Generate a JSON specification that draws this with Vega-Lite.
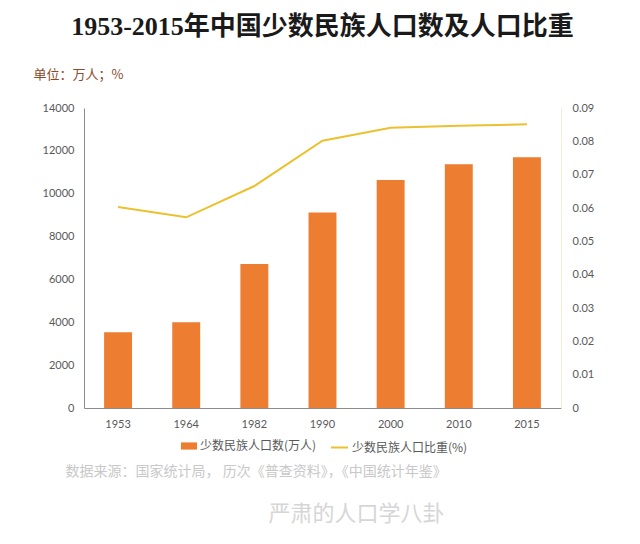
{
  "$schema": "https://vega.github.io/schema/vega-lite/v6.json",
  "width": 477,
  "height": 300,
  "autosize": {"type": "none"},
  "padding": {"left": 84, "top": 108, "right": 79, "bottom": 136},
  "background": "white",
  "title": {
    "text": "1953-2015年中国少数民族人口数及人口比重",
    "font": "Liberation Serif, Noto Sans CJK SC",
    "fontSize": 26,
    "fontWeight": "bold",
    "color": "#1a1a1a",
    "anchor": "middle",
    "offset": 28
  },
  "config": {"view": {"stroke": null}, "font": "Lato"},
  "data": {
    "values": [
      {"year": "1953", "pop": 3532, "share": 0.0603},
      {"year": "1964", "pop": 4002, "share": 0.0572},
      {"year": "1982", "pop": 6724, "share": 0.0666},
      {"year": "1990", "pop": 9120, "share": 0.0802},
      {"year": "2000", "pop": 10643, "share": 0.0841},
      {"year": "2010", "pop": 11379, "share": 0.0847},
      {"year": "2015", "pop": 11700, "share": 0.0851}
    ]
  },
  "layer": [
    {
      "mark": {"type": "bar"},
      "encoding": {
        "x": {
          "field": "year",
          "type": "ordinal",
          "scale": {"paddingInner": 0.59, "paddingOuter": 0.295},
          "axis": {
            "title": "数据来源：国家统计局， 历次《普查资料》，《中国统计年鉴》",
            "titleFont": "Noto Sans CJK SC",
            "titleFontSize": 14,
            "titleFontWeight": "normal",
            "titleColor": "#C8C8C8",
            "titleX": -19,
            "titleY": 63,
            "titleAlign": "left",
            "titleBaseline": "middle",
            "labelAngle": 0,
            "labelFontSize": 11,
            "labelColor": "#595959",
            "labelPadding": 10,
            "ticks": false,
            "domainColor": "#8C8C8C",
            "domainWidth": 1
          }
        },
        "y": {
          "field": "pop",
          "type": "quantitative",
          "scale": {"domain": [0, 14000]},
          "axis": {
            "values": [0, 2000, 4000, 6000, 8000, 10000, 12000, 14000],
            "format": "d",
            "grid": false,
            "ticks": false,
            "labelFontSize": 11,
            "labelColor": "#595959",
            "labelPadding": 10,
            "domainColor": "#8C8C8C",
            "title": "单位：万人；%",
            "titleFont": "Noto Sans CJK SC",
            "titleFontSize": 13,
            "titleFontWeight": "normal",
            "titleColor": "#8A4B2A",
            "titleAngle": 0,
            "titleX": -51,
            "titleY": -34,
            "titleAlign": "left",
            "titleBaseline": "middle"
          }
        },
        "fill": {
          "datum": "少数民族人口数(万人)",
          "type": "nominal",
          "scale": {"range": ["#ED7D31"]},
          "legend": {
            "title": null,
            "orient": "none",
            "legendX": 97,
            "legendY": 330,
            "padding": 0,
            "symbolType": "M-1,-0.45H1V0.45H-1Z",
            "symbolSize": 256,
            "symbolStrokeWidth": 0,
            "labelOffset": 3,
            "labelFont": "Noto Sans CJK SC",
            "labelFontSize": 12,
            "labelColor": "#595959"
          }
        }
      }
    },
    {
      "mark": {"type": "line", "strokeWidth": 2},
      "encoding": {
        "x": {"field": "year", "type": "ordinal"},
        "y": {
          "field": "share",
          "type": "quantitative",
          "scale": {"domain": [0, 0.09]},
          "axis": {
            "orient": "right",
            "values": [0, 0.01, 0.02, 0.03, 0.04, 0.05, 0.06, 0.07, 0.08, 0.09],
            "format": "~g",
            "grid": false,
            "ticks": false,
            "labelFontSize": 11,
            "labelColor": "#595959",
            "labelPadding": 11,
            "domainColor": "#F3EFD6",
            "title": "严肃的人口学八卦",
            "titleFont": "Noto Sans CJK SC",
            "titleFontSize": 22,
            "titleFontWeight": "normal",
            "titleColor": "#D6D6D6",
            "titleAngle": 0,
            "titleX": -205,
            "titleY": 405,
            "titleAlign": "center",
            "titleBaseline": "middle"
          }
        },
        "stroke": {
          "datum": "少数民族人口比重(%)",
          "type": "nominal",
          "scale": {"range": ["#EBC12F"]},
          "legend": {
            "title": null,
            "orient": "none",
            "legendX": 246,
            "legendY": 330,
            "padding": 0,
            "symbolType": "stroke",
            "symbolSize": 289,
            "symbolStrokeWidth": 2,
            "labelOffset": 3,
            "labelFont": "Noto Sans CJK SC",
            "labelFontSize": 12,
            "labelColor": "#595959"
          }
        }
      }
    }
  ],
  "resolve": {"scale": {"y": "independent"}}
}
